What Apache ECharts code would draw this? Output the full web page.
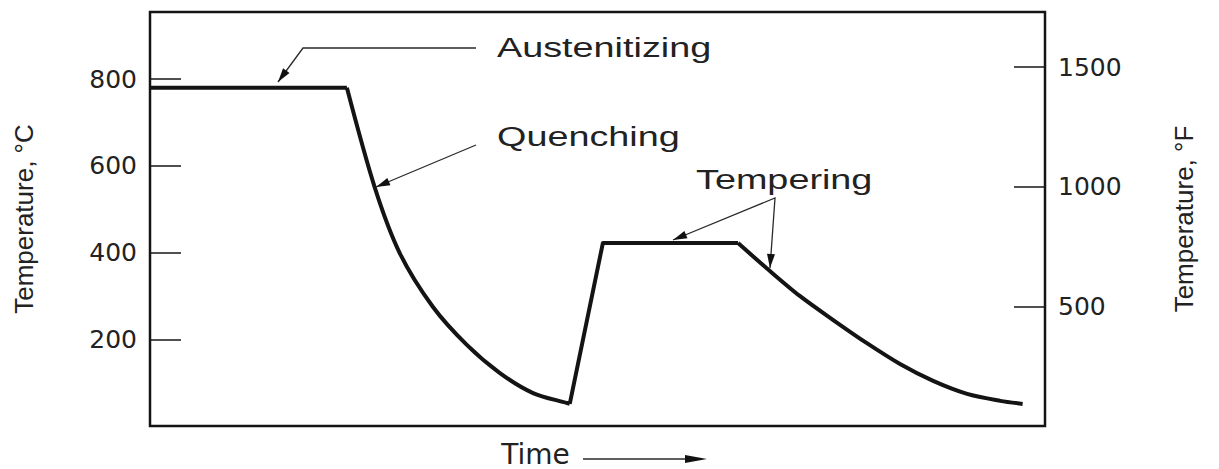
<!DOCTYPE html>
<html><head><meta charset="utf-8">
<script src="https://cdn.jsdelivr.net/npm/echarts@6/dist/echarts.min.js"></script>
<style>html,body{margin:0;padding:0;background:#fff}#c{width:1219px;height:469px}</style>
</head><body><div id="c"></div>
<script>
// ---- data (time in arbitrary units 0..100, temperature in °C) ----
const celsiusRange = [0, 955];
const fahrenheitRange = [0, 1730];
const celsiusInterval = 200;
const fahrenheitInterval = 500;

const austenitizeTime = [0, 22.0];
const austenitizeTemp = [780, 780];

const quenchTime = [22.0, 25.1, 27.9, 31.6, 35.4, 39.1, 42.8, 46.6, 46.9];
const quenchTemp = [780, 551, 399, 275, 187, 122, 76, 53, 51];

const reheatTime = [46.9, 50.6, 65.7];
const reheatTemp = [51, 422, 422];

const temperCoolTime = [65.7, 68.9, 72.6, 76.3, 80.1, 83.8, 87.5, 91.3, 95.0, 97.5];
const temperCoolTemp = [422, 364, 300, 245, 191, 143, 104, 74, 58, 51];

const labelAusten = 'Austenitizing';
const labelQuench = 'Quenching';
const labelTemper = 'Tempering';

const zip = (xs, ys) => xs.map((x, i) => [x, ys[i]]);
const INK = '#141414';

function head(from, to, len, half) {
  const dx = to[0] - from[0], dy = to[1] - from[1];
  const L = Math.hypot(dx, dy), ux = dx / L, uy = dy / L;
  const bx = to[0] - ux * len, by = to[1] - uy * len;
  return [[to[0], to[1]], [bx - uy * half, by + ux * half], [bx + uy * half, by - ux * half]];
}
function thinLine(points) {
  return { type: 'polyline', silent: true, shape: { points }, style: { stroke: '#2a2a2a', lineWidth: 1.3, fill: null } };
}
function arrowHead(from, to, len, half) {
  return { type: 'polygon', silent: true, shape: { points: head(from, to, len, half) }, style: { fill: '#111' } };
}
function note(text, x, y) {
  return { type: 'text', silent: true, x, y, scaleX: 1.4,
    style: { text, fontSize: 27, fontFamily: 'Liberation Sans', fill: '#222', align: 'left', verticalAlign: 'middle' } };
}

const lineSeries = (name, data, smooth) => ({
  name, type: 'line', data, smooth, symbol: 'none', silent: true, yAxisIndex: 0,
  lineStyle: { color: INK, width: 4, join: 'round' }
});

const plainNumber = v => String(v);

const chart = echarts.init(document.getElementById('c'), null, { renderer: 'svg' });
chart.setOption({
  animation: false,
  backgroundColor: '#fff',
  grid: { left: 150, top: 12, right: 174, bottom: 43, outerBoundsMode: 'none', containLabel: false,
    show: true, borderColor: INK, borderWidth: 2.5, backgroundColor: 'transparent' },
  xAxis: {
    type: 'value', min: 0, max: 100,
    axisLine: { show: false }, axisTick: { show: false }, axisLabel: { show: false }, splitLine: { show: false },
    name: 'Time', nameLocation: 'middle', nameGap: 16,
    nameTextStyle: { fontSize: 28, lineHeight: 24, fontFamily: 'DejaVu Sans', color: '#222', padding: [0, 124, 0, 0], verticalAlign: 'top' }
  },
  yAxis: [{
    type: 'value', position: 'left', min: celsiusRange[0], max: celsiusRange[1], interval: celsiusInterval,
    axisLine: { show: false }, splitLine: { show: false },
    axisTick: { show: true, inside: true, length: 31, lineStyle: { color: INK, width: 1.5 } },
    axisLabel: { margin: 13, fontSize: 25, fontFamily: 'DejaVu Sans', color: '#222', showMinLabel: false, showMaxLabel: false, formatter: plainNumber },
    name: 'Temperature, °C', nameLocation: 'middle', nameRotate: 90, nameGap: 113,
    nameTextStyle: { fontSize: 26, fontFamily: 'Liberation Sans', color: '#222' }
  }, {
    type: 'value', position: 'right', min: fahrenheitRange[0], max: fahrenheitRange[1], interval: fahrenheitInterval,
    axisLine: { show: false }, splitLine: { show: false },
    axisTick: { show: true, inside: true, length: 31, lineStyle: { color: INK, width: 1.5 } },
    axisLabel: { margin: 13, fontSize: 25, fontFamily: 'DejaVu Sans', color: '#222', showMinLabel: false, showMaxLabel: false, formatter: plainNumber },
    name: 'Temperature, °F', nameLocation: 'middle', nameRotate: 90, nameGap: 126,
    nameTextStyle: { fontSize: 26, fontFamily: 'Liberation Sans', color: '#222' }
  }],
  series: [
    lineSeries('Austenitizing', zip(austenitizeTime, austenitizeTemp), false),
    lineSeries('Quenching', zip(quenchTime, quenchTemp), 0.3),
    lineSeries('Reheat', zip(reheatTime, reheatTemp), false),
    lineSeries('Tempering cool', zip(temperCoolTime, temperCoolTemp), 0.3)
  ],
  graphic: [
    thinLine([[476, 48], [303, 48], [278, 82]]),
    arrowHead([303, 48], [278, 82], 14, 4),
    thinLine([[476, 145], [376, 187]]),
    arrowHead([476, 145], [376, 187], 14, 4),
    thinLine([[673, 240], [775, 198], [770, 268]]),
    arrowHead([775, 198], [673, 240], 14, 4),
    arrowHead([775, 198], [770, 268], 14, 4),
    thinLine([[583, 459], [690, 459]]),
    arrowHead([583, 459], [707, 459], 22, 4),
    note(labelAusten, 497, 48),
    note(labelQuench, 497, 137),
    note(labelTemper, 696, 180)
  ]
});
</script></body></html>
